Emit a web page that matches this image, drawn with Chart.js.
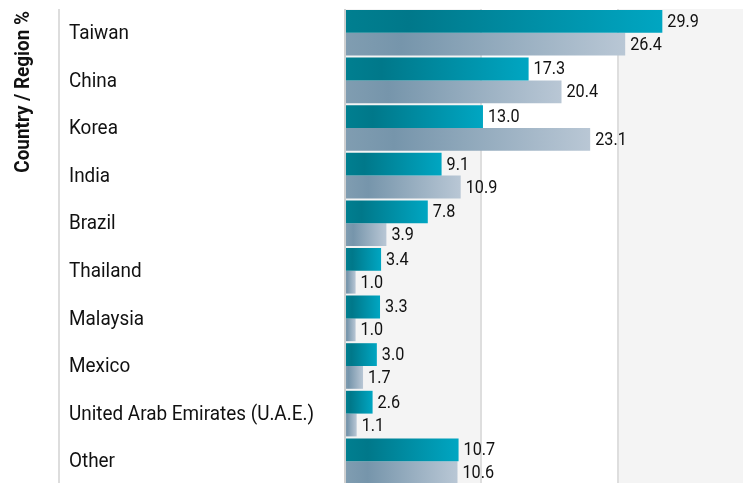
<!DOCTYPE html>
<html>
<head>
<meta charset="utf-8">
<script src="https://cdn.jsdelivr.net/npm/chart.js@4"></script>
<style>
    html, body { margin: 0; padding: 0; background: #fff; overflow: hidden; }
    #wrap { width: 743px; height: 485px; }
</style>
</head>
<body>
<div id="wrap"><canvas id="shareChart" width="743" height="485"></canvas></div>
<script>
const countries = ['Taiwan', 'China', 'Korea', 'India', 'Brazil', 'Thailand', 'Malaysia', 'Mexico', 'United Arab Emirates (U.A.E.)', 'Other'];
const fundValues = [29.9, 17.3, 13.0, 9.1, 7.8, 3.4, 3.3, 3.0, 2.6, 10.7];
const indexValues = [26.4, 20.4, 23.1, 10.9, 3.9, 1.0, 1.0, 1.7, 1.1, 10.6];
const gridValues = [12.85, 25.7];
const xMax = 37.5;
const axisTitle = 'Country / Region %';

const squeeze = 0.9; // narrow the text a bit, like a condensed face

function barGradient(c, stops, fallback) {
    const chart = c.chart;
    if (!chart.chartArea || c.raw === undefined) return fallback;
    const xs = chart.scales.x;
    const x0 = xs.getPixelForValue(0);
    const x1 = xs.getPixelForValue(c.raw);
    if (!isFinite(x0) || !isFinite(x1) || x1 - x0 < 1) return fallback;
    const g = chart.ctx.createLinearGradient(x0, 0, x1, 0);
    stops.forEach(s => g.addColorStop(s[0], s[1]));
    return g;
}

function squeezedText(ctx, text, x, y) {
    ctx.save();
    ctx.translate(x, y);
    ctx.scale(squeeze, 1);
    ctx.fillText(text, 0, 0);
    ctx.restore();
}

const bandsPlugin = {
    id: 'bands',
    beforeDraw(chart) {
        const { ctx, chartArea: a, scales: { x } } = chart;
        ctx.save();
        ctx.fillStyle = '#f4f4f4';
        const x0 = x.getPixelForValue(0);
        const x1 = x.getPixelForValue(gridValues[0]);
        const x2 = x.getPixelForValue(gridValues[1]);
        ctx.fillRect(x0, a.top, x1 - x0, a.bottom - a.top);
        ctx.fillRect(x2, a.top, a.right - x2, a.bottom - a.top);
        // divider between title and labels
        ctx.fillStyle = '#dddddd';
        ctx.fillRect(58, a.top, 2, a.bottom - a.top);
        ctx.restore();
    }
};

const textPlugin = {
    id: 'texts',
    afterDatasetsDraw(chart) {
        const { ctx, scales: { y } } = chart;
        ctx.save();
        ctx.fillStyle = '#111111';
        ctx.textAlign = 'left';
        ctx.textBaseline = 'middle';

        ctx.font = '21px Roboto';
        countries.forEach((name, i) => {
            squeezedText(ctx, name, 69, y.getPixelForTick(i) + 1);
        });

        ctx.font = '18px Roboto';
        chart.data.datasets.forEach((ds, di) => {
            const meta = chart.getDatasetMeta(di);
            meta.data.forEach((bar, i) => {
                squeezedText(ctx, ds.data[i].toFixed(1), bar.x + 5, bar.y + 1);
            });
        });

        ctx.font = 'bold 21px Roboto';
        ctx.save();
        ctx.translate(29, chart.chartArea.top + 2);
        ctx.rotate(-Math.PI / 2);
        ctx.textAlign = 'right';
        ctx.textBaseline = 'alphabetic';
        squeezedText(ctx, axisTitle, 0, 0);
        ctx.restore();
        ctx.restore();
    }
};

function drawChart() {
    new Chart(document.getElementById('shareChart'), {
        type: 'bar',
        data: {
            labels: countries,
            datasets: [{
                label: 'Fund',
                data: fundValues,
                backgroundColor: c => barGradient(c, [[0, '#007f90'], [0.2, '#00788a'], [1, '#00a6c2']], '#008ea5')
            }, {
                label: 'Index',
                data: indexValues,
                backgroundColor: c => barGradient(c, [[0, '#809db1'], [0.2, '#7695ab'], [1, '#b9c7d5']], '#98afc2')
            }]
        },
        options: {
            indexAxis: 'y',
            responsive: false,
            animation: false,
            events: [],
            layout: { padding: { top: 9, right: 0, bottom: 0, left: 0 } },
            datasets: { bar: { categoryPercentage: 0.958, barPercentage: 1 } },
            plugins: { legend: { display: false }, tooltip: { enabled: false } },
            scales: {
                x: {
                    min: 0,
                    max: xMax,
                    afterBuildTicks: s => { s.ticks = [0, ...gridValues].map(v => ({ value: v })); },
                    afterFit: s => { s.height = 0; },
                    ticks: { display: false },
                    border: { display: false },
                    grid: {
                        drawTicks: false,
                        lineWidth: 2,
                        color: c => c.tick && c.tick.value === 0 ? '#d0d0d0' : '#dedede'
                    }
                },
                y: {
                    afterFit: s => { s.width = 345; },
                    ticks: { display: false },
                    grid: { display: false },
                    border: { display: false }
                }
            }
        },
        plugins: [bandsPlugin, textPlugin]
    });
}

Promise.all([
    document.fonts.load('21px Roboto'),
    document.fonts.load('bold 21px Roboto')
]).catch(() => {}).then(drawChart);
</script>
</body>
</html>
